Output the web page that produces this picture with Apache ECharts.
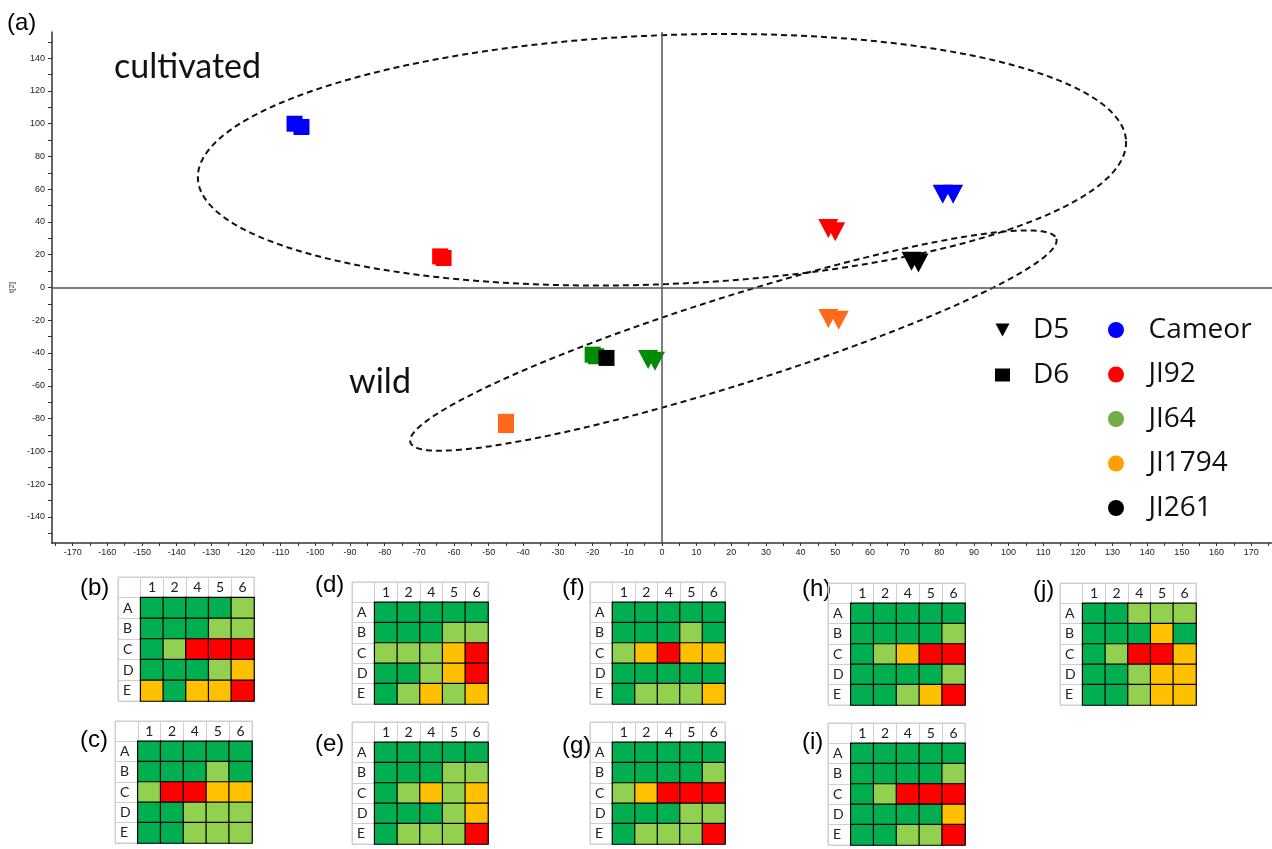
<!DOCTYPE html>
<html><head><meta charset="utf-8">
<script src="https://cdn.jsdelivr.net/npm/echarts@6/dist/echarts.min.js"></script>
<style>html,body{margin:0;padding:0;background:#fff}#c{width:1272px;height:849px}</style>
</head><body><div id="c"></div>
<script>
// ---------- data ----------
const xLabels = [-170,-160,-150,-140,-130,-120,-110,-100,-90,-80,-70,-60,-50,-40,-30,-20,-10,0,10,20,30,40,50,60,70,80,90,100,110,120,130,140,150,160,170];
const yLabels = [-140,-120,-100,-80,-60,-40,-20,0,20,40,60,80,100,120,140];

// PCA scores [t1, t2]
const cameorD5 = [[81,57],[84,57]];
const cameorD6 = [[-106,100],[-104,98]];
const ji92D5   = [[48,36],[50,34]];
const ji92D6   = [[-64,19],[-63,18]];
const ji64D5   = [[-4,-44],[-2,-45]];
const ji64D6   = [[-20,-41],[-19,-42]];
const ji1794D5 = [[48,-19],[51,-20]];
const ji1794D6 = [[-45,-82],[-45,-84]];
const ji261D5  = [[72,16],[74,15]];
const ji261D6  = [[-16,-43]];

// group ellipses: centre t1, centre t2, semi-axis (t1 units), semi-axis (t2 units), tilt (deg)
const ellipseCultivated = [0, 78, 134, 76, 2.3];
const ellipseWild       = [20.6, -32.4, 97.7, 26.9, 17.5];

const legendShapes = ['D5','D6'];
const legendLines  = ['Cameor','JI92','JI64','JI1794','JI261'];

// table headers
const tableCols = ['1','2','4','5','6'];
const tableRows = ['A','B','C','D','E'];
// 0 = dark green, 1 = light green, 2 = orange, 3 = red
const tableB = [[0,0,0,0,1],[0,0,0,1,1],[0,1,3,3,3],[0,0,0,1,2],[2,0,2,2,3]];
const tableC = [[0,0,0,0,0],[0,0,0,1,0],[1,3,3,2,2],[0,0,1,1,1],[0,0,1,1,1]];
const tableD = [[0,0,0,0,0],[0,0,0,1,1],[1,1,1,2,3],[0,0,1,2,3],[0,1,2,1,2]];
const tableE = [[0,0,0,0,0],[0,0,0,1,1],[0,1,2,1,2],[0,0,0,1,2],[0,1,1,1,3]];
const tableF = [[0,0,0,0,0],[0,0,0,1,0],[1,2,3,2,2],[0,0,0,0,0],[0,1,1,1,2]];
const tableG = [[0,0,0,0,0],[0,0,0,0,1],[1,2,3,3,3],[0,0,0,1,1],[0,1,1,1,3]];
const tableH = [[0,0,0,0,0],[0,0,0,0,1],[0,1,2,3,3],[0,0,0,0,1],[0,0,1,2,3]];
const tableI = [[0,0,0,0,0],[0,0,0,0,1],[0,1,3,3,3],[0,0,0,0,2],[0,0,1,1,3]];
const tableJ = [[0,0,1,1,1],[0,0,0,2,0],[0,1,3,3,2],[0,0,1,2,2],[0,0,1,2,2]];

// ---------- layout / style ----------
const tables = [
  {label:'(b)', data:tableB, left:118, top:577, width:136, height:124, lx:80,  ly:588},
  {label:'(c)', data:tableC, left:115, top:721, width:137, height:122, lx:80,  ly:740},
  {label:'(d)', data:tableD, left:352, top:582, width:136, height:122, lx:315, ly:585},
  {label:'(e)', data:tableE, left:352, top:722, width:136, height:122, lx:315, ly:744},
  {label:'(f)', data:tableF, left:590, top:582, width:135, height:122, lx:562, ly:588},
  {label:'(g)', data:tableG, left:590, top:722, width:135, height:122, lx:562, ly:746},
  {label:'(h)', data:tableH, left:828, top:583, width:137, height:122, lx:802, ly:589},
  {label:'(i)', data:tableI, left:828, top:723, width:137, height:122, lx:802, ly:742},
  {label:'(j)', data:tableJ, left:1060,top:583, width:136, height:122, lx:1033,ly:590}
];
const cellColors = ['#00b050','#92d050','#ffc000','#ff0000'];

const xTicks=[]; for (let v=-175; v<=175; v+=5) xTicks.push(v);
const yTicks=[]; for (let v=-150; v<=150; v+=10) yTicks.push(v);

const grids = [{left:49, right:0, top:32, height:511}];
const xAxes = [{
  gridIndex:0, type:'value', min:-176, max:176,
  axisLine:{onZero:false, lineStyle:{color:'#333', width:1.5}},
  axisTick:{show:true, length:3, customValues:xTicks, lineStyle:{color:'#333'}},
  axisLabel:{customValues:xLabels, fontFamily:'Liberation Sans', fontSize:9, color:'#222', margin:5},
  splitLine:{show:false}
}];
const yAxes = [{
  gridIndex:0, type:'value', min:-156, max:156,
  name:'t[2]', nameLocation:'middle', nameGap:27, nameRotate:90,
  nameTextStyle:{fontFamily:'Liberation Sans', fontSize:8, color:'#333'},
  axisLine:{onZero:false, lineStyle:{color:'#333', width:1.5}},
  axisTick:{show:true, length:4, customValues:yTicks, lineStyle:{color:'#333'}},
  axisLabel:{customValues:yLabels, fontFamily:'Liberation Sans', fontSize:9, color:'#222', margin:7},
  splitLine:{show:false}
}];

function pts(arr){ return arr.map(p=>p.slice()); }
const triSym = {symbol:'triangle', symbolRotate:180, symbolSize:[20,19]};
const sqSym  = {symbol:'rect', symbolSize:16};
function sc(name, data, color, sym, z){
  return Object.assign({type:'scatter', name, data:pts(data), xAxisIndex:0, yAxisIndex:0,
    itemStyle:{color, opacity:1}, z:z||3, emphasis:{disabled:true}}, sym);
}
const cBlue='#0000ff', cRed='#ff0000', cGreen='#008c00', cOrange='#ff6a1a', cBlack='#000000';

function legendOnly(name, color){
  return {type:'scatter', name, data:[], itemStyle:{color, opacity:1}};
}

const series = [
  {
    type:'custom', name:'ellipses', xAxisIndex:0, yAxisIndex:0, silent:true, z:2,
    data:[ellipseCultivated, ellipseWild],
    encode:{x:0, y:1},
    renderItem(params, api){
      const c = api.coord([api.value(0), api.value(1)]);
      const s = api.size([api.value(2), api.value(3)]);
      const r = api.value(4)*Math.PI/180;
      const p=[];
      for (let k=0;k<=240;k++){
        const ph=k/240*2*Math.PI, a=s[0]*Math.cos(ph), b=s[1]*Math.sin(ph);
        p.push([c[0]+a*Math.cos(r)+b*Math.sin(r), c[1]-a*Math.sin(r)+b*Math.cos(r)]);
      }
      return {type:'polygon', shape:{points:p}, style:{fill:null, stroke:'#111', lineWidth:2, lineDash:[6,4]}};
    },
    markLine:{silent:true, symbol:'none', label:{show:false},
      lineStyle:{color:'#555', width:1.5, type:'solid'},
      data:[{xAxis:0},{yAxis:0}]}
  },
  sc('Cameor D6', cameorD6, cBlue, sqSym),
  sc('JI92 D6', ji92D6, cRed, sqSym),
  sc('JI1794 D6', ji1794D6, cOrange, sqSym),
  sc('JI64 D6', ji64D6, cGreen, sqSym),
  sc('JI261 D6', ji261D6, cBlack, sqSym, 4),
  sc('Cameor D5', cameorD5, cBlue, triSym),
  sc('JI92 D5', ji92D5, cRed, triSym),
  sc('JI64 D5', ji64D5, cGreen, triSym),
  sc('JI1794 D5', ji1794D5, cOrange, triSym),
  sc('JI261 D5', ji261D5, cBlack, triSym),
  // legend-only entries
  legendOnly('D5', '#000'),
  legendOnly('D6', '#000'),
  legendOnly('Cameor', '#0000ff'),
  legendOnly('JI92', '#ff0000'),
  legendOnly('JI64', '#70ad47'),
  legendOnly('JI1794', '#ff9f00'),
  legendOnly('JI261', '#000')
];

const heatIdx = [];
const graphics = [
  {type:'text', x:7, y:23, style:{text:'(a)', font:'24px "Liberation Sans"', fill:'#000', verticalAlign:'middle'}},
  {type:'text', x:114, y:67, style:{text:'cultivated', font:'34px Lato', fill:'#111', verticalAlign:'middle'}},
  {type:'text', x:349, y:382, style:{text:'wild', font:'34px Lato', fill:'#111', verticalAlign:'middle'}}
];

tables.forEach((t, i)=>{
  const gi = i+1;
  grids.push({left:t.left, top:t.top, width:t.width, height:t.height, show:true, borderColor:'#cfcfcf', borderWidth:1, backgroundColor:'rgba(0,0,0,0)'});
  xAxes.push({gridIndex:gi, type:'category', data:[''].concat(tableCols), position:'top',
    axisLine:{show:false}, axisTick:{show:false},
    axisLabel:{inside:true, margin:3, interval:0, fontFamily:'Lato', fontSize:14, color:'#222'},
    splitLine:{show:true, interval:0, lineStyle:{color:'#cfcfcf', width:1}}});
  yAxes.push({gridIndex:gi, type:'category', data:[''].concat(tableRows), inverse:true,
    axisLine:{show:false}, axisTick:{show:false},
    axisLabel:{inside:true, margin:5, interval:0, fontFamily:'Lato', fontSize:14, color:'#222', align:'left'},
    splitLine:{show:true, interval:0, lineStyle:{color:'#cfcfcf', width:1}}});
  const cells=[];
  t.data.forEach((row, r)=>row.forEach((v, c)=>cells.push([c+1, r+1, v])));
  heatIdx.push(series.length);
  series.push({type:'heatmap', name:'table'+t.label, xAxisIndex:gi, yAxisIndex:gi, data:cells,
    itemStyle:{borderColor:'#000', borderWidth:1.2}, emphasis:{disabled:true}, z:3});
  graphics.push({type:'text', x:t.lx, y:t.ly, style:{text:t.label, font:'24px "Liberation Sans"', fill:'#000', verticalAlign:'middle'}});
});

const option = {
  animation:false,
  backgroundColor:'#fff',
  grid: grids, xAxis: xAxes, yAxis: yAxes, series,
  visualMap:{type:'piecewise', show:false, dimension:2, seriesIndex:heatIdx,
    pieces: cellColors.map((col, k)=>({value:k, color:col}))},
  legend:[
    {orient:'vertical', left:995, top:315, padding:0, itemGap:15, itemWidth:15, itemHeight:13,
     selectedMode:false,
     textStyle:{fontFamily:'Open Sans', fontSize:28, color:'#111', lineHeight:30, padding:[0,0,0,18]},
     data:[{name:legendShapes[0], icon:'path://M0,0L14,0L7,13Z', itemStyle:{color:'#000', opacity:1}},
           {name:legendShapes[1], icon:'rect', itemStyle:{color:'#000', opacity:1}}]},
    {orient:'vertical', left:1108, top:315, padding:0, itemGap:14.5, itemWidth:19, itemHeight:16,
     selectedMode:false,
     textStyle:{fontFamily:'Open Sans', fontSize:28, color:'#111', lineHeight:30, padding:[0,0,0,18]},
     data:legendLines.map(n=>({name:n, icon:'circle'}))}
  ],
  graphic: graphics
};
const chart = echarts.init(document.getElementById('c'));
chart.setOption(option);
</script>
</body></html>
